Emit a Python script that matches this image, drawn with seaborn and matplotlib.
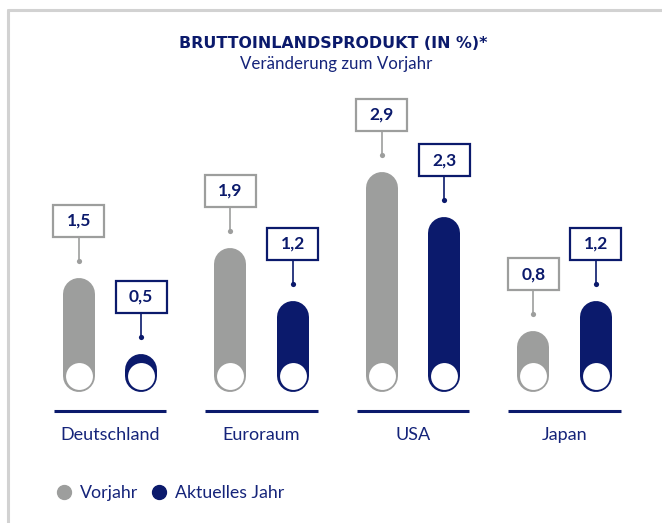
import pandas as pd
import seaborn as sns
import matplotlib.pyplot as plt
from matplotlib.lines import Line2D
from matplotlib.patches import Rectangle

regionen = ["Deutschland", "Euroraum", "USA", "Japan"]
serien = ["Vorjahr", "Aktuelles Jahr"]
vorjahr = [1.5, 1.9, 2.9, 0.8]
aktuell = [0.5, 1.2, 2.3, 1.2]
labels_vorjahr = ["1,5", "1,9", "2,9", "0,8"]
labels_aktuell = ["0,5", "1,2", "2,3", "1,2"]

GRAU = "#9d9e9d"
NAVY = "#0b1a6c"
TEXT = "#15247a"

df = pd.DataFrame({
    "Region": regionen * 2,
    "Serie": [serien[0]] * 4 + [serien[1]] * 4,
    "Wert": vorjahr + aktuell,
})

sns.set_theme(style="white")
plt.rcParams["font.family"] = ["Lato", "DejaVu Sans"]

fig = plt.figure(figsize=(6.62, 5.23), dpi=100)
ax = fig.add_axes([34.25 / 662, 131 / 523, 606 / 662, 304 / 523])
sns.barplot(data=df, x="Region", y="Wert", hue="Serie", order=regionen,
            hue_order=serien, palette=[GRAU, NAVY], width=0.82,
            saturation=1, legend=False, ax=ax)
ax.set_xlim(-0.5, 3.5)
ax.set_ylim(0, 4)

# pixel scale of the axes (used to size the pills / boxes)
px_x = 151.5
px_y = 76.0
r = 16 / px_y

for cont, farbe, labels in zip(ax.containers, [GRAU, NAVY], [labels_vorjahr, labels_aktuell]):
    for bar, lab in zip(cont, labels):
        bar.set_visible(False)
        x = bar.get_x() + bar.get_width() / 2
        h = bar.get_height()
        # rounded pill
        ax.plot([x, x], [r, max(h - r, r + 0.001)], color=farbe, lw=23.04,
                solid_capstyle="round", zorder=3)
        # white circle at the bottom
        ax.scatter([x], [r], s=375, color="white", linewidths=0, zorder=4)
        # connector dot + line
        ax.scatter([x], [h + 17 / px_y], s=14, color=farbe, linewidths=0, zorder=4, clip_on=False)
        ax.plot([x, x], [h + 17 / px_y, h + 41 / px_y], color=farbe, lw=1.2, zorder=3, clip_on=False)
        # label box
        bw, bh = 51 / px_x, 32 / px_y
        ax.add_patch(Rectangle((x - bw / 2, h + 41 / px_y), bw, bh, facecolor="white",
                               edgecolor=farbe, lw=1.6, zorder=5, clip_on=False))
        ax.text(x, h + 41 / px_y + bh / 2, lab, ha="center", va="center", color=NAVY,
                fontsize=12.5, fontweight="bold", zorder=6)

for i in range(len(regionen)):
    ax.plot([i - 0.37, i + 0.37], [-0.25, -0.25], color=NAVY, lw=2.2,
            solid_capstyle="butt", clip_on=False)

ax.set_xlabel("")
ax.set_ylabel("")
ax.set_yticks([])
ax.tick_params(axis="x", length=0, pad=25, labelsize=13, labelcolor=TEXT)
sns.despine(ax=ax, left=True, bottom=True)

fig.text(0.5038, 1 - 44 / 523, "BRUTTOINLANDSPRODUKT (IN %)*", ha="center", va="center",
         fontsize=11.4, fontweight="bold", color=NAVY, family="DejaVu Sans")
fig.text(0.5076, 1 - 64 / 523, "Veränderung zum Vorjahr", ha="center", va="center",
         fontsize=12.2, color=TEXT)

handles = [Line2D([], [], marker="o", ls="", color=c, markersize=10) for c in [GRAU, NAVY]]
fig.legend(handles=handles, labels=serien, loc="center left",
           bbox_to_anchor=(39 / 662, 1 - 493 / 523), ncol=2, frameon=False,
           fontsize=12.8, labelcolor=TEXT, handletextpad=0.4, columnspacing=0.7,
           handlelength=1)

# frame
fig.add_artist(Line2D([8 / 662, 1], [1 - 10 / 523] * 2, color="#d2d2d2", lw=2.2,
                      transform=fig.transFigure))
fig.add_artist(Line2D([8 / 662] * 2, [0, 1 - 10 / 523], color="#d2d2d2", lw=2.2,
                      transform=fig.transFigure))

fig.savefig("out.png", dpi=100)
